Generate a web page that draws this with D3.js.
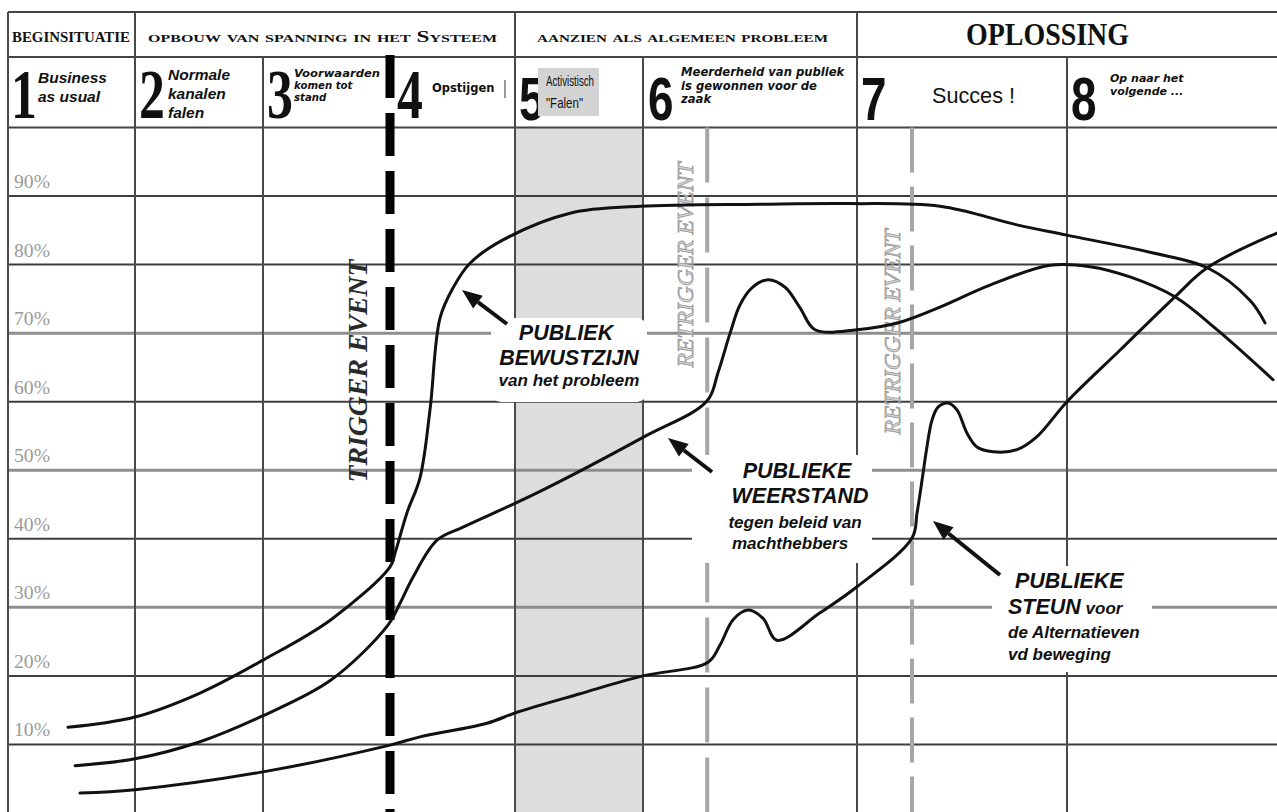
<!DOCTYPE html>
<html><head><meta charset="utf-8">
<script src="https://cdn.jsdelivr.net/npm/d3@7"></script>
<style>html,body{margin:0;padding:0;background:#fff;overflow:hidden}</style>
</head><body><svg id="c" width="1277" height="812"></svg>
<script>
// ---------------- DATA ----------------
const phaseNumbers = ["1","2","3","4","5","6","7","8"];
const phaseLabels = [
  ["Business","as usual"],
  ["Normale","kanalen","falen"],
  ["Voorwaarden","komen tot","stand"],
  ["Opstijgen"],
  ["Activistisch","\"Falen\""],
  ["Meerderheid van publiek","is gewonnen voor de","zaak"],
  ["Succes !"],
  ["Op naar het","volgende ..."]
];
const stageNames = ["BEGINSITUATIE","opbouw van spanning in het Systeem","aanzien als algemeen probleem","OPLOSSING"];
const stageStart = [0,1,4,6];
const stageEnd = [1,4,6,8];
const yTicks = [10,20,30,40,50,60,70,80,90];
const yTickLabels = ["10%","20%","30%","40%","50%","60%","70%","80%","90%"];
const failureBand = [4,5];
const eventNames = ["TRIGGER EVENT","RETRIGGER EVENT","RETRIGGER EVENT"];
const eventTimes = [3.0,5.30,6.262];

// [phase-time, percent]
const awareness = [[0.472,12.5],[1.0,14.0],[1.508,17.5],[2.0,22.3],[2.535,28.2],[3.0,35.9],[3.04,37.9],[3.136,43.8],[3.24,48.9],[3.32,58.8],[3.40,72.2],[3.504,76.6],[3.64,80.2],[3.904,83.6],[4.43,87.5],[4.977,88.5],[5.547,88.8],[5.967,88.9],[6.395,88.5],[6.762,85.8],[7.0,84.3],[7.395,81.8],[7.671,79.5],[7.871,74.8],[7.943,71.5]];
const resistance = [[0.528,6.9],[1.0,7.9],[1.508,10.4],[2.0,14.2],[2.535,19.4],[2.984,27.4],[3.08,30.6],[3.184,34.4],[3.376,39.8],[3.584,41.7],[4.172,46.7],[5.0,54.8],[5.299,60.1],[5.35,64.2],[5.407,70.0],[5.453,74.1],[5.509,76.6],[5.584,77.8],[5.664,76.7],[5.734,73.7],[5.804,70.5],[6.0,70.5],[6.205,71.6],[6.395,73.8],[6.633,77.0],[6.919,79.9],[7.11,79.7],[7.30,78.2],[7.514,75.3],[7.714,70.5],[7.981,63.2]];
const support = [[0.567,2.9],[1.0,3.4],[2.0,6.0],[3.0,9.9],[3.24,11.1],[3.776,13.1],[4.016,14.7],[4.508,17.4],[5.0,20.0],[5.304,22.0],[5.36,24.5],[5.421,28.2],[5.491,29.6],[5.561,28.4],[5.626,25.2],[5.827,29.2],[6.0,33.0],[6.262,40.1],[6.286,43.8],[6.31,48.6],[6.333,53.4],[6.357,57.3],[6.386,59.2],[6.433,59.8],[6.476,58.8],[6.524,55.4],[6.571,53.4],[6.648,52.7],[6.762,53.0],[6.857,54.9],[7.0,60.0],[7.252,67.5],[7.514,75.3],[7.671,79.6],[8.0,84.6]];

const annoAwareness = ["PUBLIEK","BEWUSTZIJN","van het probleem"];
const annoResistance = ["PUBLIEKE","WEERSTAND","tegen beleid van","machthebbers"];
const annoSupport = ["PUBLIEKE","STEUN"," voor","de Alternatieven","vd beweging"];

// ---------------- LAYOUT ----------------
const W=1277,H=812, TOP=12, ROW1=57, ROW2=127.5;
const svg=d3.select("#c");
const x=d3.scaleLinear().domain([0,1,2,3,4,5,6,7,8]).range([8,135,263,390,515,643,857,1067,1277]);
const y=d3.scaleLinear().domain([0,100]).range([813,127.5]);
const SERIF="'Liberation Serif','Times New Roman',serif";
const SANS="'Liberation Sans',Arial,sans-serif";
const DJ="'DejaVu Sans',Verdana,sans-serif";

svg.append("rect").attr("width",W).attr("height",H).attr("fill","#fff");
svg.append("rect").attr("x",x(failureBand[0])).attr("y",ROW2)
  .attr("width",x(failureBand[1])-x(failureBand[0])).attr("height",H-ROW2).attr("fill","#dddddd");

// horizontal grid
const light=d=>d===30||d===50||d===70;
svg.append("g").selectAll("line").data(yTicks).join("line")
  .attr("x1",x(0)).attr("x2",W).attr("y1",d=>y(d)).attr("y2",d=>y(d))
  .attr("stroke",d=>light(d)?"#8e8e8e":"#3e3e3e").attr("stroke-width",d=>light(d)?3:2);

// header lines
svg.append("g").selectAll("line").data([TOP,ROW1,ROW2]).join("line")
  .attr("x1",x(0)).attr("x2",W).attr("y1",d=>d).attr("y2",d=>d)
  .attr("stroke","#444").attr("stroke-width",2);

// vertical lines
const fullCols=[0].concat(stageEnd.slice(0,3));
svg.append("g").selectAll("line").data(fullCols).join("line")
  .attr("x1",d=>x(d)).attr("x2",d=>x(d)).attr("y1",TOP).attr("y2",H)
  .attr("stroke","#4a4a4a").attr("stroke-width",2);
const phaseCols=d3.range(1,8).filter(p=>!fullCols.includes(p)&&p!==eventTimes[0]);
svg.append("g").selectAll("line").data(phaseCols).join("line")
  .attr("x1",d=>x(d)).attr("x2",d=>x(d)).attr("y1",ROW1).attr("y2",H)
  .attr("stroke","#4a4a4a").attr("stroke-width",2);

// y tick labels
svg.append("g").selectAll("text").data(yTicks).join("text")
  .attr("x",14).attr("y",d=>y(d)-8).text((d,i)=>yTickLabels[i])
  .attr("font-family",SERIF).attr("font-size",19).attr("fill","#9a9a9a")
  .attr("textLength",36).attr("lengthAdjust","spacingAndGlyphs");

// stage header row
const stageX=[12,148,537,966], stageW=[118,349,291,163];
stageNames.forEach((s,i)=>{
  const t=svg.append("text").attr("x",stageX[i]).attr("y",i===3?45:42).text(s)
    .attr("font-family",SERIF).attr("font-weight","bold").attr("fill","#111")
    .attr("textLength",stageW[i]).attr("lengthAdjust","spacingAndGlyphs");
  if(i===0) t.attr("font-size",14);
  else if(i===3) t.attr("font-size",31);
  else t.attr("font-size",16).style("font-variant","small-caps");
});

// phase numbers (condensed via horizontal scale)
const numX=[11,139,267,397,519,648,861,1071];
phaseNumbers.forEach((n,i)=>{
  const serif=i<4;
  svg.append("text").attr("transform",`translate(${numX[i]},${serif?118:120}) scale(0.74,1)`).text(n)
    .attr("font-family",serif?SERIF:SANS).attr("font-weight","bold")
    .attr("font-size",serif?70:62).attr("fill","#111");
});

// phase labels
const lab=(tx,ty,s,fam,size,weight,style,fill)=>svg.append("text").attr("x",tx).attr("y",ty).text(s)
  .attr("font-family",fam).attr("font-size",size).attr("font-weight",weight||"normal")
  .attr("font-style",style||"normal").attr("fill",fill||"#111");
lab(38,83,phaseLabels[0][0],SANS,15.5,"bold","italic");
lab(38,101.5,phaseLabels[0][1],SANS,15.5,"bold","italic");
[80,99,118].forEach((ty,k)=>lab(168,ty,phaseLabels[1][k],SANS,15.5,"bold","italic"));
[77,89,101].forEach((ty,k)=>{
  const t=lab(294,ty,phaseLabels[2][k],DJ,10.2,"bold","italic");
  if(k===0) t.attr("textLength",86).attr("lengthAdjust","spacingAndGlyphs");
});
lab(432,92,phaseLabels[3][0],DJ,11.5,"bold");
svg.append("line").attr("x1",505).attr("x2",505).attr("y1",80).attr("y2",98).attr("stroke","#333").attr("stroke-width",1);
svg.append("rect").attr("x",538).attr("y",68).attr("width",61).attr("height",48).attr("fill","#d3d3d3");
lab(546,86,phaseLabels[4][0],SANS,15).attr("textLength",48).attr("lengthAdjust","spacingAndGlyphs");
lab(546,108,phaseLabels[4][1],SANS,15).attr("textLength",37).attr("lengthAdjust","spacingAndGlyphs");
[76,89.5,103].forEach((ty,k)=>lab(681,ty,phaseLabels[5][k],DJ,11.6,"bold","italic"));
lab(932,103,phaseLabels[6][0],SANS,22).attr("textLength",83).attr("lengthAdjust","spacingAndGlyphs");
[82,95].forEach((ty,k)=>lab(1110,ty,phaseLabels[7][k],DJ,11,"bold","italic"));

// event lines
svg.append("line").attr("x1",x(eventTimes[0])).attr("x2",x(eventTimes[0])).attr("y1",55).attr("y2",H)
  .attr("stroke","#000").attr("stroke-width",9).attr("stroke-dasharray","43,15");
svg.append("text").attr("transform",`translate(${x(eventTimes[0])-23},371) rotate(-90)`)
  .attr("text-anchor","middle").text(eventNames[0])
  .attr("font-family",SERIF).attr("font-style","italic").attr("font-weight","bold")
  .attr("font-size",28).attr("fill","#2a2a2a")
  .attr("textLength",223).attr("lengthAdjust","spacingAndGlyphs");
const reDash=["55,15","45,14"], reCy=[265,332], reOff=[14,12];
[1,2].forEach((k,j)=>{
  svg.append("line").attr("x1",x(eventTimes[k])).attr("x2",x(eventTimes[k])).attr("y1",ROW2).attr("y2",H)
    .attr("stroke","#a6a6a6").attr("stroke-width",4).attr("stroke-dasharray",reDash[j]);
  svg.append("text").attr("transform",`translate(${x(eventTimes[k])-reOff[j]},${reCy[j]}) rotate(-90)`)
    .attr("text-anchor","middle").text(eventNames[k])
    .attr("font-family",SERIF).attr("font-style","italic").attr("font-size",23)
    .attr("fill","#d6d6d6").attr("stroke","#9a9a9a").attr("stroke-width",0.8)
    .attr("textLength",205).attr("lengthAdjust","spacingAndGlyphs");
});

// curves
const line=d3.line().x(d=>x(d[0])).y(d=>y(d[1])).curve(d3.curveCatmullRom.alpha(0.5));
[awareness,resistance,support].forEach(s=>{
  svg.append("path").attr("d",line(s)).attr("fill","none").attr("stroke","#111")
    .attr("stroke-width",3).attr("stroke-linecap","round").attr("stroke-linejoin","round");
});

// annotation boxes
const box=(bx,by,bw,bh)=>svg.append("rect").attr("x",bx).attr("y",by).attr("width",bw).attr("height",bh)
  .attr("rx",10).attr("fill","#fff");
box(491,318,156,84);
box(692,455,180,108);
box(992,566,160,106);

// annotation texts
const at=(tx,ty,s,size,anchor)=>svg.append("text").attr("x",tx).attr("y",ty).text(s)
  .attr("font-family",SANS).attr("font-weight","bold").attr("font-style","italic")
  .attr("font-size",size).attr("fill","#111").attr("text-anchor",anchor||"middle");
at(566,340,annoAwareness[0],21.5);
at(569,365,annoAwareness[1],21.5);
at(569,386,annoAwareness[2],17);
at(797,478,annoResistance[0],21.5);
at(800,503,annoResistance[1],21.5);
at(795,528,annoResistance[2],17);
at(790,549,annoResistance[3],17);
at(1015,588,annoSupport[0],21.5,"start");
const st=at(1008,614,annoSupport[1],21.5,"start");
st.append("tspan").attr("font-size",17).text(annoSupport[2]);
at(1008,638,annoSupport[3],17,"start");
at(1008,660,annoSupport[4],17,"start");

// arrows (tail -> tip)
function arrow(tx,ty,hx,hy){
  const dx=hx-tx, dy=hy-ty, L=Math.hypot(dx,dy), ux=dx/L, uy=dy/L, px=-uy, py=ux;
  const hl=20, hw=8;
  const bx=hx-ux*hl, by=hy-uy*hl;
  svg.append("line").attr("x1",tx).attr("y1",ty).attr("x2",bx).attr("y2",by)
    .attr("stroke","#111").attr("stroke-width",4);
  svg.append("path").attr("d",`M${hx},${hy}L${bx+px*hw},${by+py*hw}L${bx-px*hw},${by-py*hw}Z`).attr("fill","#111");
}
arrow(507,324,462,290);
arrow(712,472,668,438);
arrow(1000,575,933,521);
</script></body></html>
